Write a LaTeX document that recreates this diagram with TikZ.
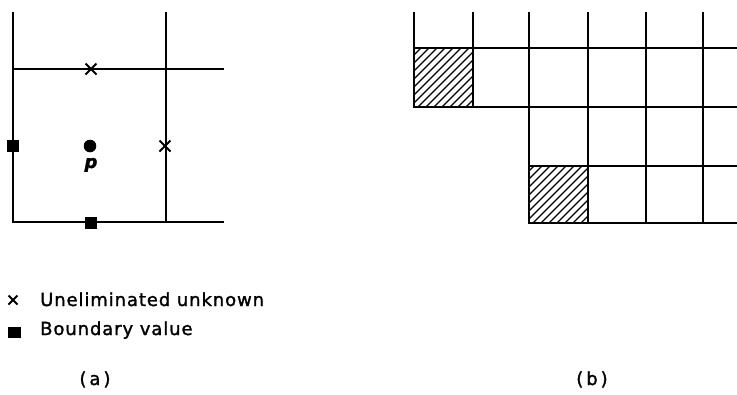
\documentclass[tikz,border=0pt]{standalone}
\usepackage{fontspec}
\setmainfont[LetterSpace=5,FakeBold=1.5]{DejaVu Sans}
\begin{document}
\begin{tikzpicture}[x=1pt,y=-1pt,
  gridline/.style={line width=1.5pt},
  heavyline/.style={line width=2.7pt, line join=miter},
  hatchline/.style={line width=1.1pt},
  crossmark/.style={line width=2pt},
  lbl/.style={inner sep=0pt, font=\fontsize{18}{22}\selectfont},
]
\useasboundingbox (0,0) rectangle (737,394);

% ---------- (a) ----------
\draw[gridline] (13,12) -- (13,222) -- (224,222);
\draw[gridline] (13,69) -- (224,69);
\draw[gridline] (166,12) -- (166,222);
% crosses
\foreach \cx/\cy/\nm in {91/69/xa, 165/146/xb} {
  \coordinate (\nm) at (\cx,\cy);
  \draw[crossmark] ([shift={(-5.5,-5.5)}]\nm) -- ([shift={(5.5,5.5)}]\nm);
  \draw[crossmark] ([shift={(-5.5,5.5)}]\nm) -- ([shift={(5.5,-5.5)}]\nm);
}
% point p
\fill (90,146) circle (6.3);
\node[lbl, font=\fontsize{18}{20}\selectfont\bfseries\itshape, anchor=base] (plabel) at (91,168) {p};
% boundary squares
\fill (7,140) rectangle (19,152);
\fill (85,217) rectangle (97,229);

% ---------- (b) ----------
% hatched cells
\begin{scope}
  \clip (414,48) rectangle (473,107);
  \foreach \k in {0,8,...,136} {
    \draw[hatchline] (414-60+\k,107) -- (414+\k,47);
  }
\end{scope}
\begin{scope}
  \clip (529,166) rectangle (588,223);
  \foreach \k in {0,8,...,136} {
    \draw[hatchline] (529-60+\k,223) -- (529+\k,163);
  }
\end{scope}
% grid
\draw[gridline] (473,12) -- (473,107);
\foreach \gx in {529,588,646,703} { \draw[gridline] (\gx,12) -- (\gx,223); }
\draw[gridline] (414,48) -- (737,48);
\draw[gridline] (414,107) -- (737,107);
\draw[gridline] (529,166) -- (737,166);
% heavy outline
\draw[heavyline] (414,12) -- (414,107) -- (529,107) -- (529,223) -- (737,223);

% ---------- legend ----------
\coordinate (lx) at (13,300);
\draw[crossmark] ([shift={(-4.5,-4.5)}]lx) -- ([shift={(4.5,4.5)}]lx);
\draw[crossmark] ([shift={(-4.5,4.5)}]lx) -- ([shift={(4.5,-4.5)}]lx);
\node[lbl, anchor=base west] (leg1) at (40,306) {Uneliminated unknown};
\fill (8,327) rectangle (21,338);
\node[lbl, anchor=base west] (leg2) at (40,335) {Boundary value};

\node[lbl, anchor=base] (capa) at (95,385) {(\kern3pt a\kern3pt)};
\node[lbl, anchor=base] (capb) at (592,385) {(\kern3pt b\kern3pt)};
\end{tikzpicture}
\end{document}
